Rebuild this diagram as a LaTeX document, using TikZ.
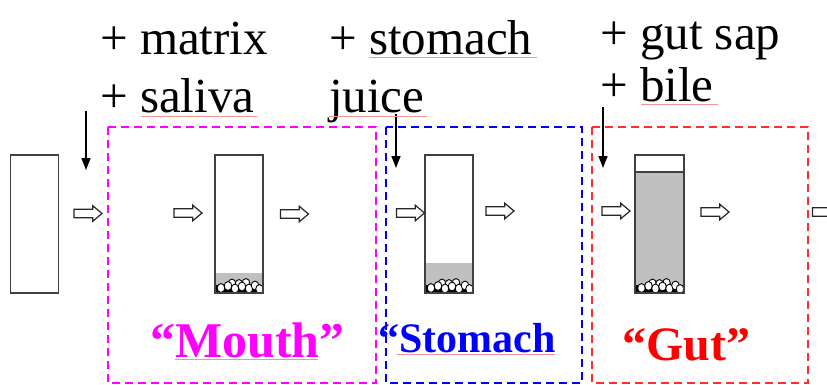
\documentclass[tikz,border=0pt]{standalone}
\usepackage{fontspec}
\setmainfont{Liberation Serif}
\usetikzlibrary{shapes.arrows,arrows.meta}
\definecolor{mouthc}{RGB}{255,0,255}
\definecolor{stomc}{RGB}{0,0,255}
\definecolor{gutc}{RGB}{255,0,0}
\definecolor{gutbox}{RGB}{255,45,45}
\definecolor{tubeline}{RGB}{64,64,64}
\definecolor{fluid}{RGB}{192,192,192}
\definecolor{squiggle}{RGB}{240,150,150}

% sediment of beads at the bottom of a tube whose left side is at x = #1
\newcommand\drawpebbles[1]{%
  \begin{scope}
    \clip (#1,270) rectangle ++(48,23);
    \fill[black] (#1,285) rectangle ++(48,8);
    \foreach \dx/\py in {17/283.5,31/283,24/284,6/288,13/286,20/288.5,27/286.5,34/288.5,40/285.5,44.5/289}
      \draw[pebble] (#1+\dx,\py) ellipse [x radius=3.8, y radius=4.4];
  \end{scope}}

\begin{document}
\begin{tikzpicture}[x=1pt,y=-1pt,
  toplabel/.style={anchor=base west,inner sep=0pt,font=\fontsize{49}{49}\selectfont},
  stagebox/.style={line width=2pt,dash pattern=on 8pt off 5pt},
  tube/.style={draw=tubeline,line width=1.5pt,rectangle,inner sep=0pt,minimum width=48pt,minimum height=138pt},
  flow/.style={shape=single arrow,draw=black!85,line width=1.2pt,fill=white,inner xsep=0pt,inner ysep=3.6pt,minimum height=28pt,single arrow head extend=3.6pt,single arrow tip angle=80},
  feed/.style={line width=1.5pt,-{Triangle[length=12pt,width=9pt]}},
  spell/.style={squiggle,line width=0.8pt},
  pebble/.style={draw=black,fill=white,line width=0.9pt}
]
\useasboundingbox[fill=white] (0,0) rectangle (827,385);

% stage frames
\draw[stagebox,mouthc] (108,127) rectangle (376,383);
\draw[stagebox,stomc]  (386,127) rectangle (582,383);
\draw[stagebox,gutbox] (592,127) rectangle (808,383);

% tube contents: fluid layers and sediment
\fill[fluid] (215,273) rectangle (263,293);
\fill[fluid] (425,263) rectangle (473,293);
\fill[fluid] (635,172) rectangle (684,293);
\drawpebbles{215}
\drawpebbles{425}
\drawpebbles{635.5}

% tubes
\node[tube] (tube0) at (34.5,224) {};
\node[tube] (tube1) at (239,224) {};
\node[tube] (tube2) at (449,224) {};
\node[tube,minimum width=49pt] (tube3) at (659.5,224) {};
\draw[tubeline,line width=1.5pt] (tube3.west |- 0,172) -- (tube3.east |- 0,172);

% flow arrows
\node[flow] (f1) at (85.5,213.5) {};
\node[flow] (f2) at (185.5,213) {};
\node[flow] (f3) at (292,214) {};
\node[flow] (f4) at (408,213) {};
\node[flow] (f5) at (497.5,211) {};
\node[flow] (f6) at (613.5,211) {};
\node[flow] (f7) at (712.5,212) {};
\node[flow] (f8) at (824,212) {};

% additions fed in from above
\coordinate (in1) at (86,111);   \coordinate (out1) at (86,170);
\coordinate (in2) at (396,114);  \coordinate (out2) at (396,168);
\coordinate (in3) at (603,107);  \coordinate (out3) at (603,168);
\draw[feed] (in1) -- (out1);
\draw[feed] (in2) -- (out2);
\draw[feed] (in3) -- (out3);

% added ingredients
\node[toplabel] (matrix) at (100,55) {+ matrix};
\node[toplabel] (saliva) at (100,113) {+ saliva};
\node[toplabel] (stomach) at (329,55) {+ stomach};
\node[toplabel] (juice) at (329,113) {juice};
\node[toplabel] (gutsap) at (600,50) {+ gut sap};
\node[toplabel] (bile) at (600,102) {+ bile};

% stage names
\node[anchor=base west,inner sep=0pt,text=mouthc,font=\fontsize{50}{50}\selectfont\bfseries] (mouth) at (150,357) {“Mouth”};
\node[anchor=base west,inner sep=0pt,text=stomc,font=\fontsize{42}{42}\selectfont\bfseries] (stom) at (378,352) {“Stomach};
\node[anchor=base west,inner sep=0pt,text=gutc,font=\fontsize{48}{48}\selectfont\bfseries] (gut) at (622,360) {“Gut”};

% spelling marks
\draw[spell] (141,116) -- (257,116);
\draw[spell] (369,57) -- (537,57);
\draw[spell] (329,116) -- (427,116);
\draw[spell] (641,104) -- (718,104);
\draw[spell] (175,359) -- (318,359);
\draw[spell] (397,354) -- (555,354);
\end{tikzpicture}
\end{document}
